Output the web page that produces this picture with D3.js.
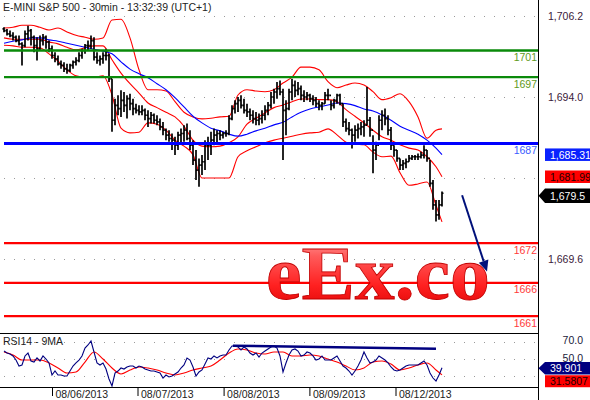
<!DOCTYPE html>
<html><head><meta charset="utf-8">
<script src="https://cdn.jsdelivr.net/npm/d3@7"></script>
<style>
html,body{margin:0;padding:0;background:#fff;}
svg{display:block;font-family:"Liberation Sans",Arial,sans-serif;}
</style></head><body>
<svg id="c" width="590" height="400"></svg>
<script>
// ---------------- DATA ----------------
const title = "E-MINI S&P 500 - 30min - 13:32:39 (UTC+1)";
const firstOpen = 1704.25;
const highs = [1704.5,1704.25,1704.0,1703.75,1703.25,1703.25,1702.25,1704.0,1704.75,1704.25,1703.25,1703.0,1703.25,1703.5,1703.25,1702.5,
 1701.75,1700.75,1700.25,1699.5,1699.25,1699.0,1699.0,1699.5,1700.0,1700.75,1701.25,1702.0,1702.5,1703.25,1703.0,1700.75,1700.25,1700.75,1701.25,1700.5,
 1696.75,1693.75,1694.25,1695.0,1694.75,1694.25,1694.5,1693.75,1693.0,1692.75,1692.75,1692.25,1692.0,
 1691.75,1691.5,1691.25,1690.75,1690.25,1689.25,1689.0,1688.5,1688.0,1688.75,1689.25,1689.75,1690.0,1689.0,1687.5,1686.0,1684.75,
 1685.25,1687.5,1688.0,1688.75,1689.25,1689.0,1689.0,1688.75,1689.0,1691.25,1692.75,1693.5,1694.0,1694.25,1693.75,1693.0,1692.25,
 1692.0,1691.75,1691.5,1692.0,1692.75,1693.25,1694.75,1695.25,1696.25,1696.5,1695.25,1693.5,1695.25,1696.75,1696.5,1696.25,
 1695.75,1695.0,1694.75,1694.5,1694.25,1694.0,1693.5,1693.25,1694.75,1695.25,1693.5,1693.75,1694.5,1694.5,1693.0,1690.75,1690.25,1689.25,1689.75,1690.0,1690.25,1690.5,1695.5,1691.0,1688.25,1687.25,1691.25,1692.0,1692.25,1691.25,1689.5,1686.75,1686.0,1684.75,1684.5,1684.75,1685.25,1685.25,1685.25,1685.5,1685.75,1686.75,1686.0,1684.5,1681.5,1678.5,1678.5,1679.75];
const lows = [1703.75,1703.25,1703.0,1702.5,1702.25,1701.75,1698.75,1701.5,1702.5,1701.75,1700.75,1699.5,1701.0,1701.75,1701.25,1700.75,
 1699.75,1699.25,1698.75,1698.25,1697.75,1697.5,1697.75,1698.25,1698.75,1699.25,1699.75,1700.5,1701.0,1701.25,1699.5,1699.0,1698.75,1699.0,1699.5,1696.25,
 1688.75,1689.75,1691.25,1691.0,1691.75,1690.75,1692.0,1691.25,1691.5,1691.25,1691.25,1690.5,1689.5,
 1690.0,1690.0,1689.75,1689.0,1688.25,1687.5,1687.25,1686.0,1685.25,1686.0,1687.0,1687.25,1687.5,1686.0,1683.75,1681.5,1680.5,
 1682.25,1683.0,1684.5,1685.25,1686.75,1687.0,1687.5,1687.75,1688.0,1688.25,1690.5,1691.5,1691.75,1692.25,1691.5,1691.0,1690.5,
 1690.0,1689.75,1689.75,1690.0,1690.5,1691.25,1692.25,1693.0,1693.75,1694.25,1684.5,1688.25,1692.0,1693.5,1694.0,1694.25,
 1693.5,1693.25,1693.5,1693.25,1692.75,1692.5,1692.0,1692.0,1693.0,1693.5,1692.0,1692.25,1693.0,1692.75,1689.5,1688.75,1688.25,1686.25,1687.25,1687.75,1688.25,1688.0,1689.75,1688.0,1682.5,1684.5,1687.5,1689.0,1689.75,1688.25,1686.0,1685.0,1684.25,1683.0,1683.0,1683.25,1684.25,1684.5,1684.5,1684.5,1684.75,1684.75,1684.25,1680.5,1677.0,1675.25,1675.5,1677.5];
const closes = [1704.0,1703.5,1703.25,1703.0,1702.5,1702.0,1701.75,1703.5,1704.0,1703.0,1701.75,1701.25,1702.5,1703.0,1702.25,1701.25,
 1700.25,1699.75,1699.0,1698.75,1698.25,1698.0,1698.75,1699.25,1699.5,1700.25,1701.0,1701.75,1701.75,1702.5,1700.0,1699.5,1699.75,1700.25,1700.25,1696.75,
 1690.5,1692.75,1692.25,1693.5,1692.75,1693.75,1693.0,1692.25,1692.0,1691.75,1692.0,1691.25,1690.75,
 1691.25,1690.5,1690.25,1689.5,1689.0,1688.25,1687.75,1687.5,1686.75,1688.25,1688.5,1689.0,1687.75,1686.75,1684.5,1683.0,1683.75,
 1684.25,1686.75,1686.75,1687.5,1688.25,1688.5,1688.25,1688.5,1688.5,1690.75,1692.25,1693.0,1693.5,1692.75,1692.0,1691.75,1691.25,
 1690.75,1690.5,1690.75,1691.25,1692.0,1692.75,1694.0,1694.75,1695.25,1694.75,1692.0,1692.25,1694.75,1695.75,1695.0,1695.25,
 1694.25,1694.0,1694.25,1693.75,1693.5,1693.0,1692.75,1693.0,1694.25,1694.25,1692.75,1693.5,1694.25,1693.0,1690.25,1689.25,1689.0,1688.25,1689.0,1689.25,1689.5,1689.75,1690.5,1689.0,1686.0,1686.75,1690.5,1691.25,1690.75,1689.0,1686.75,1686.0,1684.75,1683.75,1684.0,1684.25,1684.75,1685.0,1685.0,1685.0,1685.25,1686.0,1684.75,1681.0,1677.75,1676.25,1677.75,1679.5];

// indicator samples (bar index of each sample)
const bandIndex = [0,3,6,9,12,15,18,21,24,27,30,33,36,39,42,45,48,51,54,57,60,63,66,69,72,75,78,81,84,87,90,93,96,99,102,105,108,111,114,117,120,123,126,129,132,135,138,141,144,146];
const bbUpper = [1704.4,1704.5,1704.8,1704.8,1704.5,1704.1,1704.4,1703.8,1703.3,1703.0,1702.7,1702.9,1705.6,1705.7,1702.9,1698.1,1695.1,1695.1,1694.9,1693.3,1691.7,1691.0,1690.7,1690.8,1691.0,1691.1,1694.3,1695.1,1694.9,1694.8,1695.1,1696.1,1697.0,1698.5,1698.5,1698.1,1696.3,1695.4,1695.8,1696.1,1695.8,1694.8,1693.6,1693.9,1694.5,1693.3,1691.0,1687.8,1689.0,1689.2];
const bbMiddle = [1702.9,1702.7,1702.7,1702.7,1702.7,1702.3,1702.0,1701.5,1701.1,1701.4,1701.7,1701.7,1699.6,1697.6,1696.0,1694.6,1693.1,1692.4,1691.7,1691.0,1689.6,1687.5,1686.6,1686.5,1686.6,1687.1,1688.0,1689.9,1690.8,1691.6,1692.4,1692.8,1693.3,1693.7,1693.7,1693.6,1693.6,1693.3,1692.1,1691.1,1690.1,1689.0,1688.0,1687.5,1686.8,1686.3,1686.0,1685.0,1683.5,1681.99];
const bbLower = [1701.8,1701.7,1701.5,1701.5,1701.4,1700.5,1699.4,1698.1,1697.2,1697.0,1697.0,1697.2,1694.3,1689.3,1688.6,1688.7,1690.1,1689.9,1689.0,1687.5,1686.6,1685.3,1681.8,1681.8,1681.8,1681.8,1685.0,1685.9,1686.5,1687.1,1687.5,1687.8,1688.1,1688.4,1688.6,1688.7,1689.2,1688.3,1687.2,1686.9,1686.8,1685.7,1685.0,1685.1,1682.6,1680.7,1680.9,1681.2,1677.7,1675.2];
const maBlue = [1702.1,1702.4,1702.6,1702.9,1702.9,1702.6,1702.4,1702.1,1701.8,1701.5,1701.2,1700.9,1700.5,1699.3,1698.2,1697.5,1696.9,1696.0,1695.1,1693.9,1692.5,1691.1,1690.1,1689.3,1688.9,1688.4,1688.1,1688.4,1688.9,1689.3,1689.8,1690.2,1691.0,1691.7,1692.2,1692.5,1692.8,1693.1,1693.0,1692.7,1692.2,1691.9,1691.3,1690.5,1689.6,1689.0,1688.4,1687.5,1686.3,1685.31];

const rsi = [59.2,56.9,55.8,53.5,48.8,41.9,43.1,53.5,56.9,47.7,46.5,51.2,47.7,53.5,50.0,45.4,
 31.5,36.1,31.5,31.5,30.3,30.3,36.1,41.9,45.4,48.8,53.5,62.7,66.2,70.8,58.1,45.4,43.1,45.4,38.4,26.9,
 18.8,33.8,36.1,39.6,38.4,40.8,41.9,41.9,39.6,41.9,40.8,38.4,37.3,
 36.1,36.1,35.0,33.8,28.0,31.5,29.2,30.3,32.7,35.0,39.6,43.1,51.2,48.8,40.8,30.3,35.0,
 37.3,44.2,51.2,50.0,53.5,51.2,53.5,54.6,54.6,60.4,65.0,65.0,63.9,60.4,63.9,61.6,56.9,
 54.6,56.9,52.3,56.9,59.2,61.6,63.9,65.0,62.7,53.5,35.0,45.4,54.6,60.4,61.6,59.2,
 53.5,54.6,58.1,56.9,53.5,48.8,50.0,53.5,48.8,48.8,48.8,51.2,53.5,47.7,41.9,39.6,36.1,31.5,36.1,41.9,48.8,58.1,51.2,45.4,46.5,48.8,53.5,51.2,48.8,45.4,40.8,37.3,36.1,37.3,39.6,41.9,43.1,43.1,43.1,43.1,45.4,47.7,43.1,33.8,28.0,24.6,31.5,39.901];
const rsiMA = [58.1,54.6,48.8,48.8,48.8,45.4,39.6,33.8,35.0,46.5,58.1,50.0,39.6,32.7,37.3,40.8,39.6,37.3,33.8,31.5,33.8,37.3,39.6,41.9,48.8,56.9,61.6,60.4,56.9,55.8,58.1,58.1,53.5,53.5,54.6,53.5,50.0,46.5,41.9,37.3,39.6,46.5,47.7,44.2,37.3,39.6,43.1,45.4,37.3,31.5807];
const rsiTrend = [[76.3, 65.4],[144, 61.9]];

const priceTicks = [1706.2, 1694.0, 1681.8, 1669.6];
const priceLabelTicks = [1706.2, 1694.0, 1669.6];   // 1,681.8 is covered by the value box
const rsiTicks = [70, 50, 30];
const rsiLabelTicks = [70, 50];                      // 30.0 is covered by the value box
const levels = [1701, 1697, 1687, 1672, 1666, 1661];
const levelKind = ["green","green","blue","red","red","red"];
const dateTickIndex = [16, 44.5, 73.2, 101.8, 130.5];
const dateLabels = ["08/06/2013","08/07/2013","08/08/2013","08/09/2013","08/12/2013"];
const forecastArrow = [[152.7, 1679.2],[161, 1667.7]];
const lastMA = 1685.31, lastMid = 1681.99, lastClose = 1679.5;
const lastRSI = 39.901, lastRSIMA = 31.5807;
const watermark = "eEx.co";

// ---------------- LAYOUT ----------------
const W = 590, H = 400, axisX = 538;
const mainTop = 16, mainBottom = 259;
const sepY = 333, rsiBottom = 388;
const svg = d3.select("#c");

const xs = d3.scaleLinear().domain([0, 146]).range([4, 442]);
const y = d3.scaleLinear().domain([1669.6, 1706.2]).range([mainBottom, mainTop]);
const yr = d3.scaleLinear().domain([30, 70]).range([376.3, 341.7]);

const defs = svg.append("defs");
defs.append("clipPath").attr("id","clipMain").append("rect").attr("x",0).attr("y",14).attr("width",axisX).attr("height",sepY-14);
defs.append("clipPath").attr("id","clipRsi").append("rect").attr("x",0).attr("y",sepY+1).attr("width",axisX).attr("height",rsiBottom-sepY-1);
const grad = defs.append("linearGradient").attr("id","wm").attr("x1",0).attr("y1",0).attr("x2",0).attr("y2",1);
[["0%","#ffb0b0"],["30%","#ff5a5a"],["65%","#ff2020"],["100%","#d80000"]].forEach(s=>grad.append("stop").attr("offset",s[0]).attr("stop-color",s[1]));

// grid dots
const gridG = svg.append("g");
gridG.selectAll("line.pg").data(priceTicks).join("line")
  .attr("x1",4).attr("x2",axisX-2).attr("y1",d=>Math.round(y(d))+0.5).attr("y2",d=>Math.round(y(d))+0.5)
  .attr("stroke","#9a9a9a").attr("stroke-dasharray","1,9");
gridG.selectAll("line.rg").data(rsiTicks).join("line")
  .attr("x1",4).attr("x2",axisX-2).attr("y1",d=>Math.round(yr(d))+0.5).attr("y2",d=>Math.round(yr(d))+0.5)
  .attr("stroke","#9a9a9a").attr("stroke-dasharray","1,9");

// indicators
const mainG = svg.append("g").attr("clip-path","url(#clipMain)");
const lineGen = arr => d3.line().x((d,i)=>xs(bandIndex[i])).y(d=>y(d)).curve(d3.curveMonotoneX)(arr);
[[bbUpper,"#ff0000"],[bbMiddle,"#ff0000"],[bbLower,"#ff0000"],[maBlue,"#0000ff"]].forEach(([arr,c])=>{
  mainG.append("path").attr("d",lineGen(arr)).attr("fill","none").attr("stroke",c).attr("stroke-width",1.1);
});

// price bars (OHLC)
const bars = highs.map((h,i)=>({i, h, l: lows[i], c: closes[i], o: i ? closes[i-1] : firstOpen}));
mainG.append("g").selectAll("path").data(bars).join("path")
  .attr("d", d => {
    const x = xs(d.i);
    return `M${x},${y(d.h)}V${y(d.l)}M${x-1.5},${y(d.o)}H${x}M${x},${y(d.c)}H${x+1.5}`;
  })
  .attr("fill","none").attr("stroke","#000").attr("stroke-width",1.7);

// support / resistance levels
const levelStyle = {
  green: {line:"#0a8a0a", text:"#5f9a22", w:2.4},
  blue:  {line:"#0000ff", text:"#3a5cff", w:2.8},
  red:   {line:"#ff0000", text:"#ff3a3a", w:2.2}
};
const lv = svg.append("g");
lv.selectAll("line").data(levels).join("line")
  .attr("x1",4).attr("x2",axisX).attr("y1",d=>y(d)).attr("y2",d=>y(d))
  .attr("stroke",(d,i)=>levelStyle[levelKind[i]].line)
  .attr("stroke-width",(d,i)=>levelStyle[levelKind[i]].w);
lv.selectAll("text").data(levels).join("text")
  .attr("x",axisX-1).attr("y",d=>y(d)+10.5).attr("text-anchor","end")
  .attr("font-size","10.5px").attr("fill",(d,i)=>levelStyle[levelKind[i]].text)
  .text(d=>d);

// watermark
svg.append("text").attr("x",266).attr("y",299)
  .attr("font-family","'Liberation Serif','DejaVu Serif',serif").attr("font-weight","bold")
  .attr("font-size","76px").attr("textLength",224).attr("lengthAdjust","spacingAndGlyphs")
  .attr("fill","url(#wm)").attr("stroke","#c00000").attr("stroke-width",0.8)
  .text(watermark);

// forecast arrow
const [a0,a1] = forecastArrow.map(p=>[xs(p[0]), y(p[1])]);
const ang = Math.atan2(a1[1]-a0[1], a1[0]-a0[0]);
const hl = 11, hw = 5;
const base = [a1[0]-hl*Math.cos(ang), a1[1]-hl*Math.sin(ang)];
svg.append("line").attr("x1",a0[0]).attr("y1",a0[1]).attr("x2",base[0]).attr("y2",base[1])
  .attr("stroke","#00107a").attr("stroke-width",2);
svg.append("path").attr("d",`M${a1[0]},${a1[1]}L${base[0]+hw*Math.sin(ang)},${base[1]-hw*Math.cos(ang)}L${base[0]-hw*Math.sin(ang)},${base[1]+hw*Math.cos(ang)}Z`)
  .attr("fill","#00107a");

// RSI panel
const rsiG = svg.append("g").attr("clip-path","url(#clipRsi)");
rsiG.append("path").attr("d", d3.line().x((d,i)=>xs(bandIndex[i])).y(d=>yr(d)).curve(d3.curveMonotoneX)(rsiMA))
  .attr("fill","none").attr("stroke","#ff0000").attr("stroke-width",1.1);
rsiG.append("path").attr("d", d3.line().x((d,i)=>xs(i)).y(d=>yr(d))(rsi))
  .attr("fill","none").attr("stroke","#000080").attr("stroke-width",1.1);
rsiG.append("path").attr("d", d3.line().x(d=>xs(d[0])).y(d=>yr(d[1]))(rsiTrend))
  .attr("fill","none").attr("stroke","#000080").attr("stroke-width",2.6);

// frame lines
svg.append("line").attr("x1",axisX+0.5).attr("x2",axisX+0.5).attr("y1",0).attr("y2",H).attr("stroke","#000");
svg.append("line").attr("x1",0).attr("x2",axisX).attr("y1",sepY+0.5).attr("y2",sepY+0.5).attr("stroke","#000");
svg.append("line").attr("x1",0).attr("x2",axisX).attr("y1",rsiBottom-0.5).attr("y2",rsiBottom-0.5).attr("stroke","#000");

// texts
svg.append("text").attr("x",3).attr("y",11).attr("font-size","10.5px").attr("fill","#222").text(title);
svg.append("text").attr("x",3).attr("y",344.5).attr("font-size","10.5px").attr("fill","#222").text("RSI14 - 9MA");

// right price axis
const pAxis = svg.append("g").attr("transform",`translate(${axisX},0)`)
  .call(d3.axisRight(y).tickValues(priceLabelTicks).tickFormat(d3.format(",.1f")).tickSize(0));
pAxis.select(".domain").remove();
pAxis.selectAll("text").attr("x",45).attr("text-anchor","end").attr("font-size","10.5px")
  .attr("font-family","'Liberation Sans',Arial,sans-serif").attr("fill","#3a1a3a");

const rAxis = svg.append("g").attr("transform",`translate(${axisX},0)`)
  .call(d3.axisRight(yr).tickValues(rsiLabelTicks).tickFormat(d3.format(".1f")).tickSize(0));
rAxis.select(".domain").remove();
rAxis.selectAll("text").attr("x",45).attr("text-anchor","end").attr("font-size","10.5px")
  .attr("dy","0.2em")
  .attr("font-family","'Liberation Sans',Arial,sans-serif").attr("fill","#1a1a3a");

// date axis
const dAxis = svg.append("g").attr("transform",`translate(0,${rsiBottom})`)
  .call(d3.axisBottom(xs).tickValues(dateTickIndex).tickFormat((d,i)=>dateLabels[i]).tickSize(8));
dAxis.select(".domain").remove();
dAxis.selectAll("line").attr("stroke","#000");
dAxis.selectAll("text").attr("text-anchor","start").attr("x",3).attr("y",10).attr("dy",null)
  .attr("font-size","10.5px").attr("font-family","'Liberation Sans',Arial,sans-serif").attr("fill","#222");

// value boxes
function box(yc, bg, fg, label, arrow, h){
  const top = yc - h/2, left = 545;
  const g = svg.append("g");
  if (arrow) {
    g.append("path").attr("d",`M${axisX+0.5},${yc}L${left},${top}H${W}V${top+h}H${left}Z`).attr("fill",bg);
  } else {
    g.append("rect").attr("x",left).attr("y",top).attr("width",W-left).attr("height",h).attr("fill",bg);
  }
  g.append("text").attr("x",550).attr("y",yc+4).attr("font-size","10.5px").attr("fill",fg).text(label);
}
const yMA = y(lastMA), yMid = Math.max(y(lastMid), yMA+20), yClose = Math.max(y(lastClose), yMid+19);
box(yMA, "#0a22ff", "#fff", d3.format(",.2f")(lastMA), false, 12.5);
box(yMid, "#ff0000", "#220000", d3.format(",.2f")(lastMid), false, 12.5);
box(yClose, "#000", "#fff", d3.format(",.1f")(lastClose), true, 14.5);
const yR = yr(lastRSI) + 0.5, yRM = Math.max(yr(lastRSIMA), yR+13);
box(yR, "#000080", "#fff", String(lastRSI), true, 12.5);
box(yRM, "#ff0000", "#220000", String(lastRSIMA), false, 12);
</script>
</body></html>
